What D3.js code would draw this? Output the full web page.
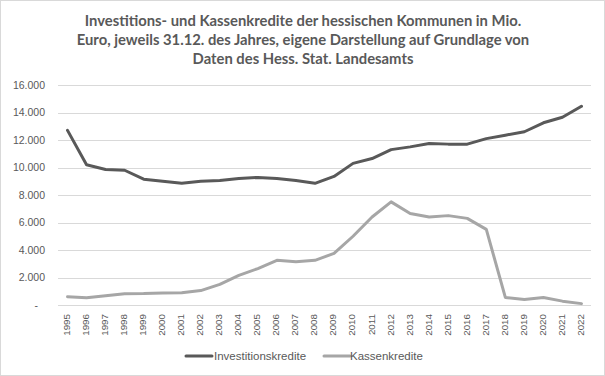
<!DOCTYPE html>
<html><head><meta charset="utf-8">
<script src="https://cdn.jsdelivr.net/npm/d3@7"></script>
<style>body{margin:0;background:#fff}svg{display:block}</style>
</head><body>
<script>
const years = ["1995","1996","1997","1998","1999","2000","2001","2002","2003","2004","2005","2006","2007","2008","2009","2010","2011","2012","2013","2014","2015","2016","2017","2018","2019","2020","2021","2022"];
const investitionskredite = [12700,10200,9850,9800,9150,9000,8850,9000,9050,9200,9280,9200,9050,8850,9350,10300,10650,11300,11500,11750,11700,11700,12100,12350,12600,13250,13650,14450];
const kassenkredite = [600,520,680,820,830,880,890,1050,1500,2150,2650,3250,3150,3250,3750,5000,6400,7500,6650,6400,6500,6300,5500,550,400,550,280,100];
const yTicks = [0,2000,4000,6000,8000,10000,12000,14000,16000];
const titleLines = ["Investitions- und Kassenkredite der hessischen Kommunen in Mio.","Euro, jeweils 31.12. des Jahres, eigene Darstellung auf Grundlage von","Daten des Hess.  Stat. Landesamts"];
const seriesNames = ["Investitionskredite","Kassenkredite"];
const colors = ["#595959","#a6a6a6"];

const W=605,H=376;
const svg=d3.select("body").append("svg").attr("width",W).attr("height",H);
svg.append("rect").attr("x",0.5).attr("y",0.5).attr("width",W-1).attr("height",H-1).attr("fill","#fff").attr("stroke","#d9d9d9");

const x=d3.scaleBand().domain(years).range([58,591]);
const y=d3.scaleLinear().domain([0,16000]).range([305,85]);

// title
svg.append("g").selectAll("text").data(titleLines).join("text")
  .attr("x",303).attr("y",(d,i)=>25.5+i*19).attr("text-anchor","middle")
  .attr("font-family","Lato, 'Open Sans', sans-serif").attr("font-weight","bold")
  .attr("font-size",14.8).attr("fill","#595959").text(d=>d);

// grid
svg.append("g").selectAll("line").data(yTicks).join("line")
  .attr("x1",58).attr("x2",591).attr("y1",d=>Math.round(y(d))+0.5).attr("y2",d=>Math.round(y(d))+0.5)
  .attr("stroke","#d9d9d9").attr("stroke-width",1);

// y axis
const fmt=d=>d===0?"-":d3.format(",")(d).replace(/,/g,".");
const ya=svg.append("g").attr("transform","translate(45,0)")
  .call(d3.axisLeft(y).tickValues(yTicks).tickFormat(fmt).tickSize(0).tickPadding(0));
ya.select(".domain").remove();
ya.selectAll("text").attr("font-family","'Liberation Sans', Arial, sans-serif").attr("font-size",10.5).attr("fill","#595959");
ya.selectAll(".tick").filter(d=>d===0).select("text").attr("dx",-7);

// x axis
const xa=svg.append("g").attr("transform","translate(0,305)")
  .call(d3.axisBottom(x).tickSize(0).tickPadding(0));
xa.select(".domain").remove();
xa.selectAll("text").attr("font-family","'Liberation Sans', Arial, sans-serif").attr("font-size",9.8).attr("fill","#595959")
  .attr("text-anchor","end").attr("transform","translate(-1,9) rotate(-90)").attr("dy","0.35em").attr("y",0).attr("x",0);

// lines
const line=d3.line().x((d,i)=>x(years[i])+x.bandwidth()/2).y(d=>y(d));
[kassenkredite,investitionskredite].forEach((s,k)=>{
  svg.append("path").datum(s).attr("d",line).attr("fill","none")
    .attr("stroke",k===0?colors[1]:colors[0]).attr("stroke-width",3).attr("stroke-linejoin","round").attr("stroke-linecap","round");
});

// legend
const lg=[{x:186,tx:214},{x:324,tx:350}];
seriesNames.forEach((n,i)=>{
  svg.append("line").attr("x1",lg[i].x).attr("x2",lg[i].x+26).attr("y1",356).attr("y2",356)
    .attr("stroke",colors[i]).attr("stroke-width",3).attr("stroke-linecap","round");
  svg.append("text").attr("x",lg[i].tx).attr("y",356).attr("dy","0.35em")
    .attr("font-family","'Liberation Sans', Arial, sans-serif").attr("font-size",11.5).attr("fill","#595959").text(n);
});
</script>
</body></html>
